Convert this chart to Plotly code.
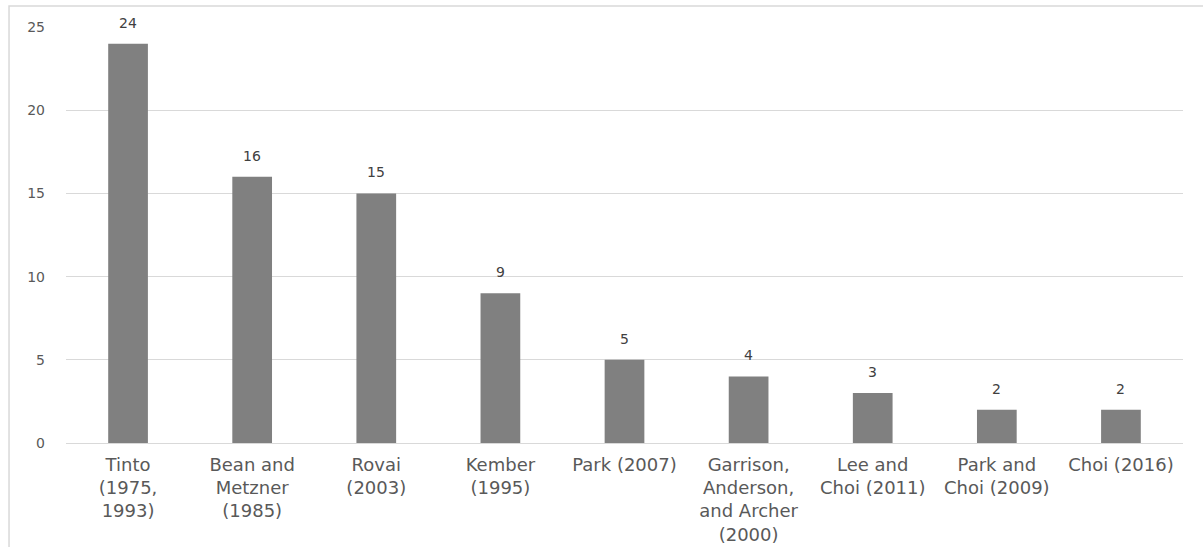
import plotly.graph_objects as go

# Studies cited and how often each was cited
studies = [
    "Tinto<br>(1975,<br>1993)",
    "Bean and<br>Metzner<br>(1985)",
    "Rovai<br>(2003)",
    "Kember<br>(1995)",
    "Park (2007)",
    "Garrison,<br>Anderson,<br>and Archer<br>(2000)",
    "Lee and<br>Choi (2011)",
    "Park and<br>Choi (2009)",
    "Choi (2016)",
]
counts = [24, 16, 15, 9, 5, 4, 3, 2, 2]
y_ticks = [0, 5, 10, 15, 20, 25]

TEXT_GRAY = "#595959"
BAR_GRAY = "#808080"
GRID_GRAY = "#d9d9d9"
WIDE_FONT = "DejaVu Sans, Verdana, sans-serif"

fig = go.Figure()
fig.add_trace(go.Bar(
    x=studies,
    y=counts,
    marker=dict(color=BAR_GRAY, line=dict(width=0)),
    hoverinfo="x+y",
))

# value labels above each bar
for s, c in zip(studies, counts):
    fig.add_annotation(
        x=s, y=c, text=str(c), showarrow=False,
        yanchor="bottom", yshift=11,
        font=dict(family=WIDE_FONT, size=14, color="#404040"),
    )

# light frame around the chart
fig.add_shape(
    type="rect", xref="paper", yref="paper",
    x0=-0.051, x1=1.05, y0=-0.5, y1=1.0505,
    line=dict(color=GRID_GRAY, width=1.5), fillcolor="rgba(0,0,0,0)", layer="below",
)

fig.update_layout(
    width=1203, height=547,
    margin=dict(l=66, r=20, t=27, b=104),
    paper_bgcolor="white", plot_bgcolor="white",
    bargap=0.68,
    showlegend=False,
    xaxis=dict(
        type="category",
        automargin=False,
        showgrid=False,
        showline=True, linecolor=GRID_GRAY, linewidth=1,
        ticks="", tickfont=dict(family=WIDE_FONT, size=18, color=TEXT_GRAY),
        ticklabelstandoff=5,
        tickangle=0,
    ),
    yaxis=dict(
        automargin=False,
        range=[0, 25], tickvals=y_ticks,
        showgrid=True, gridcolor=GRID_GRAY, gridwidth=1,
        zeroline=False, showline=False,
        tickfont=dict(family=WIDE_FONT, size=14, color=TEXT_GRAY),
        ticklabelstandoff=20,
    ),
)

fig.write_html("out.html")
